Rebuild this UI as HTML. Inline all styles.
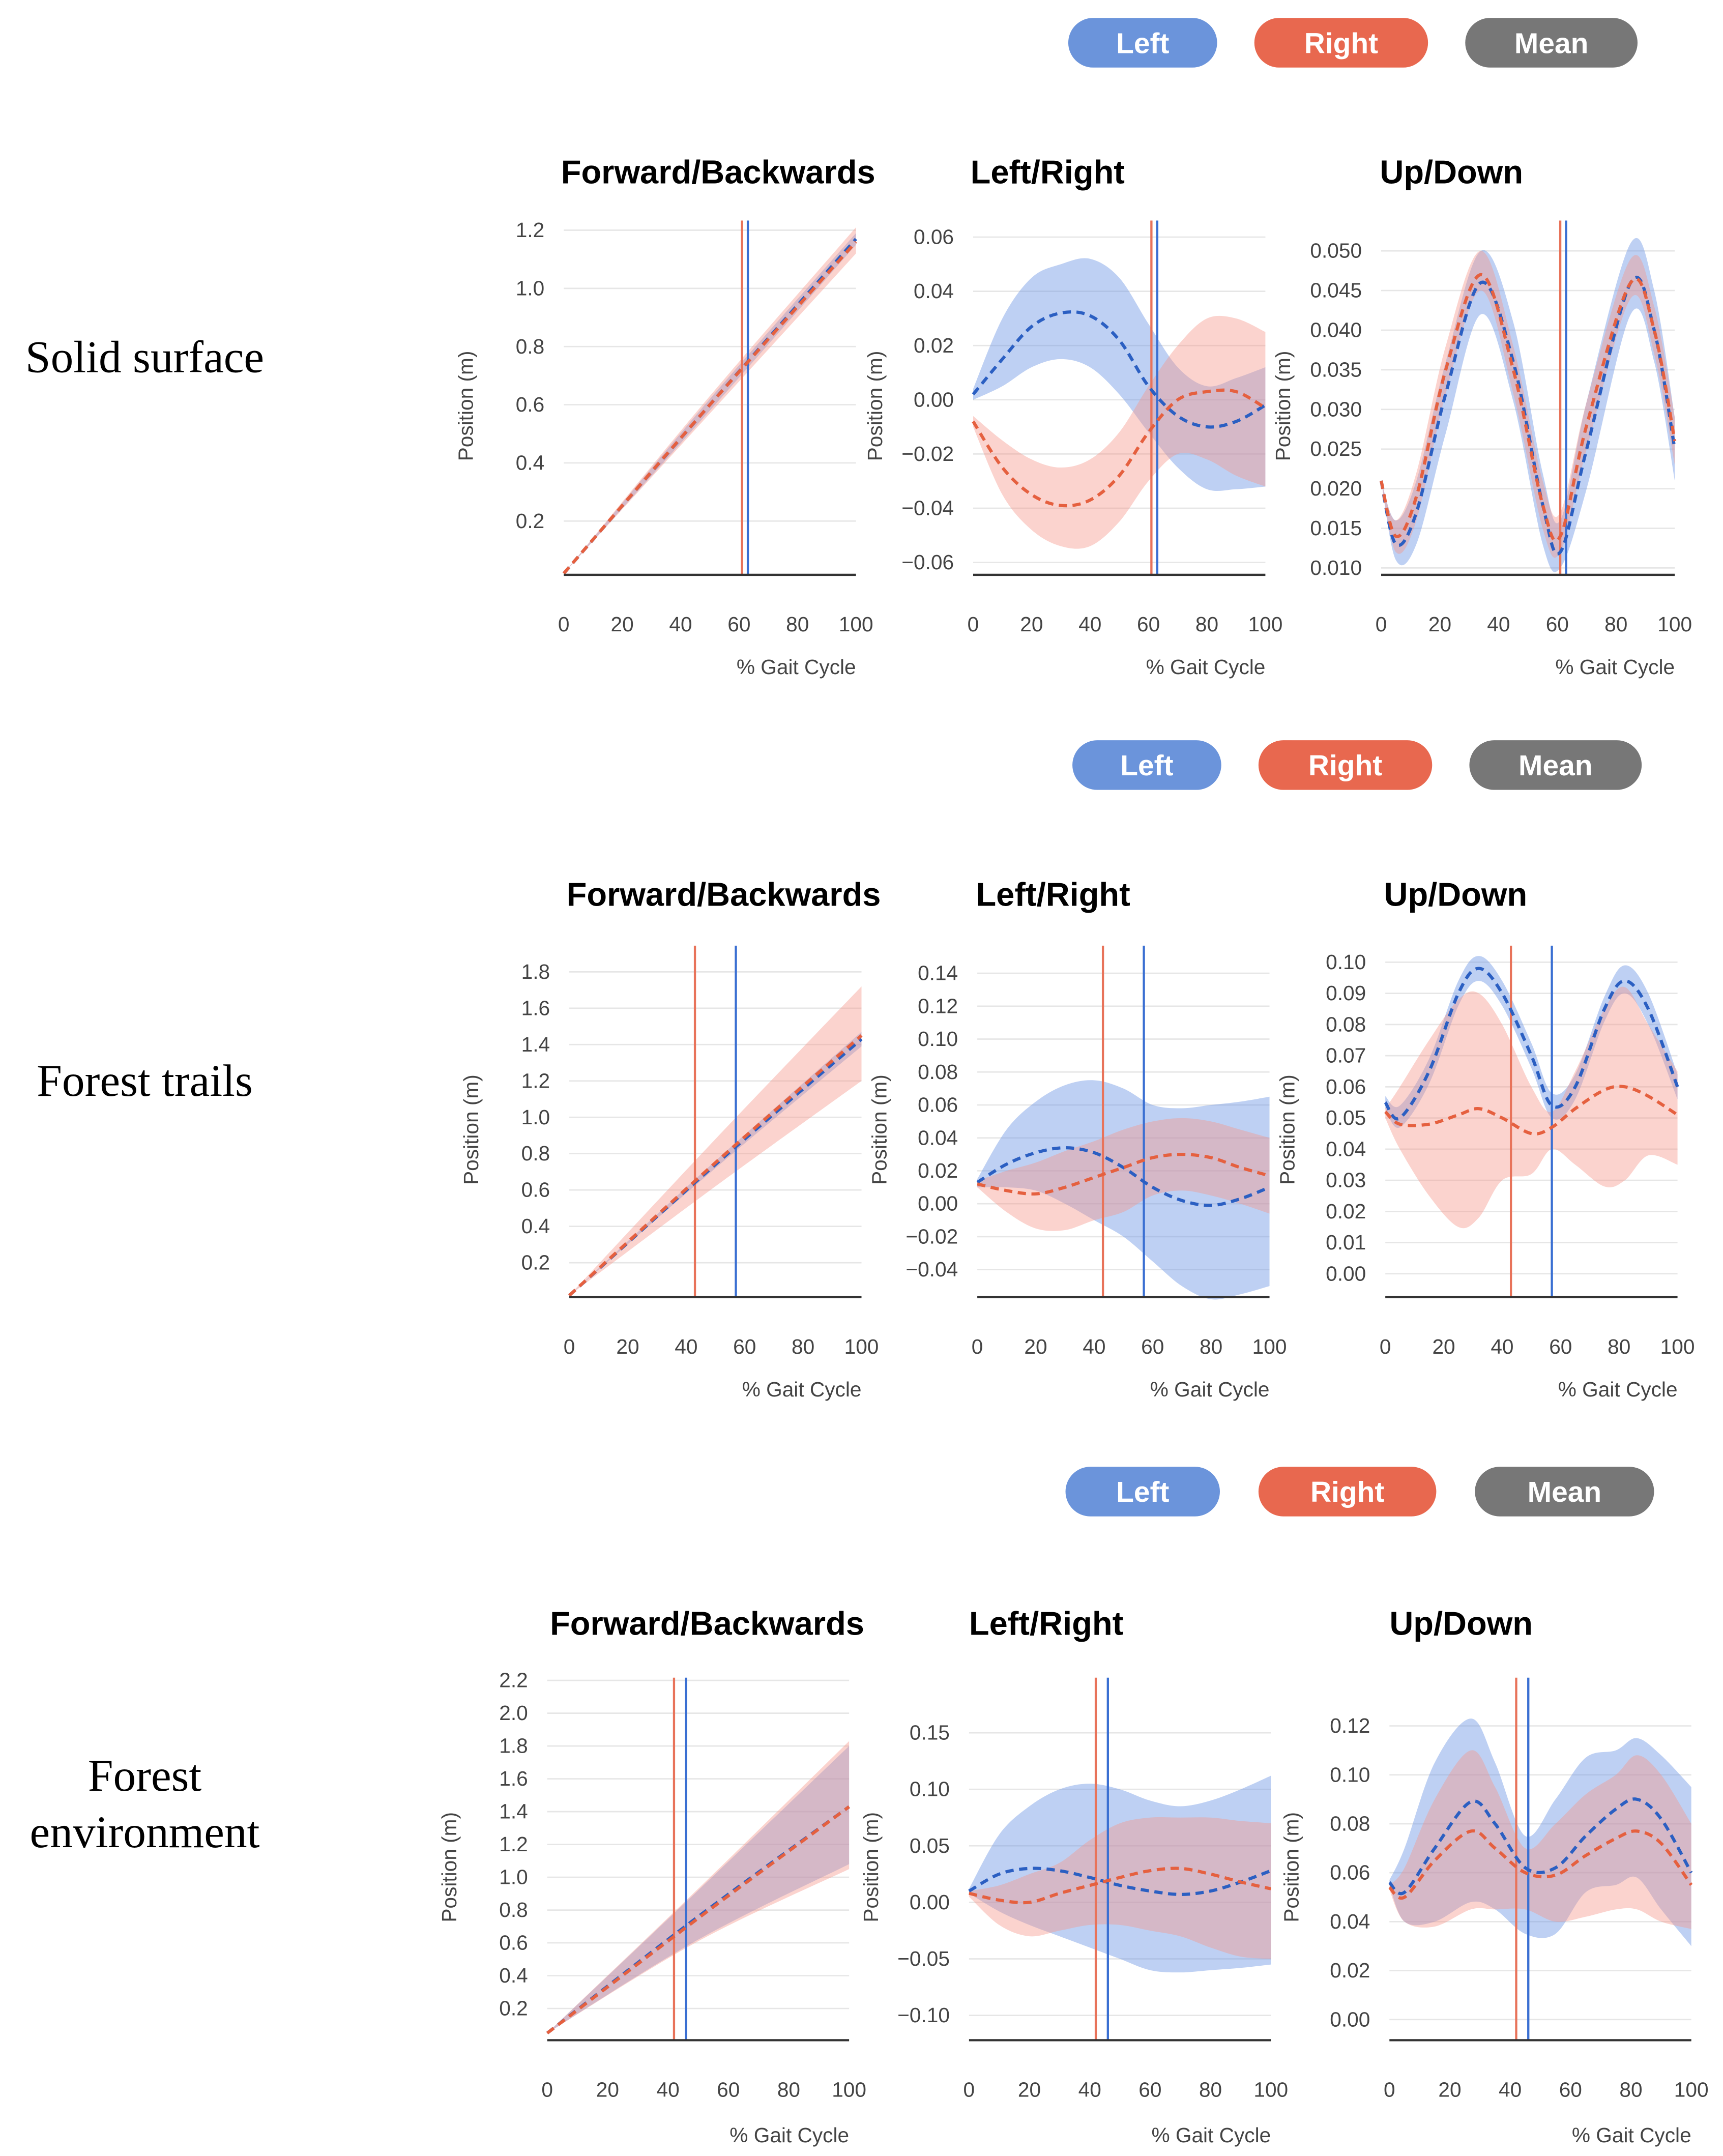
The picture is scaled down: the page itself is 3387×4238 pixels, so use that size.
<!DOCTYPE html>
<html><head><meta charset="utf-8">
<style>
html,body{margin:0;padding:0;background:#fff;}
svg{display:block;}
</style></head>
<body>
<svg id="fig" width="3387" height="4238" viewBox="0 0 1250 1564" preserveAspectRatio="none" xmlns="http://www.w3.org/2000/svg" font-family="Liberation Sans, Arial, sans-serif">
<g><text x="105" y="270" text-anchor="middle" font-family="Liberation Serif, serif" font-size="33">Solid surface</text></g>
<g><text x="105" y="795" text-anchor="middle" font-family="Liberation Serif, serif" font-size="33">Forest trails</text></g>
<g><text x="105" y="1299" text-anchor="middle" font-family="Liberation Serif, serif" font-size="33">Forest</text><text x="105" y="1340" text-anchor="middle" font-family="Liberation Serif, serif" font-size="33">environment</text></g>
</svg>
<script>
// ---- data (row 1: solid surface) ----
const r1p1Pct=[0,50,100];
const r1p1LeftMean=[0.02,0.60,1.17];const r1p1LeftHi=[0.02,0.62,1.19];const r1p1LeftLo=[0.02,0.58,1.15];
const r1p1RightMean=[0.02,0.60,1.16];const r1p1RightHi=[0.02,0.63,1.21];const r1p1RightLo=[0.02,0.57,1.12];
const r1p1Ticks=[0.2,0.4,0.6,0.8,1.0,1.2];const r1p1Stance=[61,63];

const r1p2Pct=[0,10,20,30,40,50,60,70,80,90,100];
const r1p2LeftMean=[0.002,0.015,0.027,0.032,0.031,0.022,0.005,-0.006,-0.010,-0.008,-0.002];
const r1p2LeftHi=[0.004,0.030,0.045,0.050,0.052,0.045,0.028,0.012,0.005,0.008,0.012];
const r1p2LeftLo=[0.000,0.005,0.012,0.015,0.012,0.002,-0.012,-0.025,-0.033,-0.033,-0.032];
const r1p2RightMean=[-0.008,-0.025,-0.035,-0.039,-0.037,-0.028,-0.012,0.000,0.003,0.003,-0.003];
const r1p2RightHi=[-0.006,-0.015,-0.022,-0.025,-0.022,-0.012,0.005,0.020,0.030,0.030,0.025];
const r1p2RightLo=[-0.010,-0.035,-0.048,-0.054,-0.054,-0.045,-0.030,-0.020,-0.022,-0.028,-0.032];
const r1p2Ticks=[-0.06,-0.04,-0.02,0,0.02,0.04,0.06];const r1p2Stance=[61,63];

const r1p3Pct=[0,5,12,22,34,45,55,61,70,85,93,100];
const r1p3LeftMean=[0.021,0.013,0.017,0.032,0.046,0.036,0.018,0.012,0.025,0.046,0.040,0.025];
const r1p3LeftHi=[0.021,0.016,0.021,0.036,0.050,0.041,0.022,0.016,0.031,0.051,0.045,0.029];
const r1p3LeftLo=[0.021,0.011,0.013,0.027,0.042,0.031,0.013,0.010,0.020,0.042,0.036,0.021];
const r1p3RightMean=[0.021,0.014,0.019,0.035,0.047,0.035,0.018,0.014,0.028,0.046,0.040,0.026];
const r1p3RightHi=[0.021,0.016,0.022,0.038,0.050,0.038,0.021,0.017,0.031,0.049,0.043,0.029];
const r1p3RightLo=[0.021,0.012,0.016,0.032,0.045,0.032,0.015,0.012,0.025,0.044,0.037,0.023];
const r1p3Ticks=[0.010,0.015,0.020,0.025,0.030,0.035,0.040,0.045,0.050];const r1p3Stance=[61,63];

// ---- data (row 2: forest trails) ----
const r2p1Pct=[0,50,100];
const r2p1LeftMean=[0.02,0.74,1.43];const r2p1LeftHi=[0.02,0.76,1.47];const r2p1LeftLo=[0.02,0.72,1.39];
const r2p1RightMean=[0.02,0.75,1.45];const r2p1RightHi=[0.02,0.88,1.72];const r2p1RightLo=[0.02,0.62,1.20];
const r2p1Ticks=[0.2,0.4,0.6,0.8,1.0,1.2,1.4,1.6,1.8];const r2p1Stance=[43,57];

const r2p2Pct=[0,10,20,30,40,50,60,70,80,90,100];
const r2p2LeftMean=[0.013,0.024,0.031,0.034,0.031,0.022,0.010,0.002,-0.001,0.003,0.010];
const r2p2LeftHi=[0.015,0.045,0.062,0.072,0.075,0.070,0.060,0.058,0.060,0.062,0.065];
const r2p2LeftLo=[0.010,0.010,0.008,0.000,-0.010,-0.020,-0.035,-0.050,-0.058,-0.055,-0.050];
const r2p2RightMean=[0.012,0.008,0.006,0.010,0.016,0.022,0.028,0.030,0.028,0.022,0.017];
const r2p2RightHi=[0.014,0.020,0.025,0.032,0.038,0.045,0.050,0.052,0.050,0.045,0.040];
const r2p2RightLo=[0.010,-0.005,-0.015,-0.016,-0.010,-0.005,0.005,0.008,0.005,0.000,-0.006];
const r2p2Ticks=[-0.04,-0.02,0,0.02,0.04,0.06,0.08,0.10,0.12,0.14];const r2p2Stance=[43,57];

const r2p3Pct=[0,5,15,25,32,40,50,57,65,75,82,90,100];
const r2p3LeftMean=[0.055,0.050,0.065,0.090,0.098,0.090,0.070,0.054,0.060,0.085,0.094,0.085,0.060];
const r2p3LeftHi=[0.057,0.054,0.069,0.094,0.102,0.094,0.074,0.058,0.064,0.089,0.099,0.090,0.064];
const r2p3LeftLo=[0.053,0.047,0.061,0.086,0.094,0.086,0.066,0.050,0.056,0.081,0.090,0.080,0.056];
const r2p3RightMean=[0.052,0.048,0.048,0.051,0.053,0.050,0.045,0.047,0.053,0.059,0.060,0.057,0.051];
const r2p3RightHi=[0.053,0.060,0.075,0.088,0.090,0.080,0.060,0.052,0.065,0.085,0.092,0.080,0.065];
const r2p3RightLo=[0.050,0.040,0.025,0.015,0.018,0.030,0.032,0.040,0.035,0.028,0.030,0.038,0.035];
const r2p3Ticks=[0,0.01,0.02,0.03,0.04,0.05,0.06,0.07,0.08,0.09,0.10];const r2p3Stance=[43,57];

// ---- data (row 3: forest environment) ----
const r3p1Pct=[0,50,100];
const r3p1LeftMean=[0.05,0.76,1.43];const r3p1LeftHi=[0.05,0.92,1.80];const r3p1LeftLo=[0.05,0.62,1.08];
const r3p1RightMean=[0.05,0.75,1.43];const r3p1RightHi=[0.05,0.93,1.83];const r3p1RightLo=[0.05,0.61,1.05];
const r3p1Ticks=[0.2,0.4,0.6,0.8,1.0,1.2,1.4,1.6,1.8,2.0,2.2];const r3p1Stance=[42,46];

const r3p2Pct=[0,10,20,30,40,50,60,70,80,90,100];
const r3p2LeftMean=[0.010,0.025,0.030,0.028,0.022,0.015,0.010,0.007,0.010,0.018,0.028];
const r3p2LeftHi=[0.012,0.060,0.085,0.100,0.105,0.100,0.090,0.085,0.090,0.100,0.112];
const r3p2LeftLo=[0.008,-0.008,-0.020,-0.030,-0.040,-0.050,-0.060,-0.062,-0.060,-0.058,-0.055];
const r3p2RightMean=[0.008,0.002,0.000,0.008,0.015,0.022,0.028,0.030,0.025,0.018,0.012];
const r3p2RightHi=[0.010,0.015,0.025,0.035,0.055,0.070,0.075,0.075,0.075,0.072,0.070];
const r3p2RightLo=[0.005,-0.020,-0.030,-0.025,-0.020,-0.020,-0.025,-0.030,-0.040,-0.048,-0.050];
const r3p2Ticks=[-0.10,-0.05,0,0.05,0.10,0.15];const r3p2Stance=[42,46];

const r3p3Pct=[0,5,15,27,35,45,55,65,75,82,90,100];
const r3p3LeftMean=[0.056,0.052,0.070,0.089,0.080,0.062,0.062,0.075,0.086,0.090,0.082,0.060];
const r3p3LeftHi=[0.057,0.070,0.105,0.123,0.105,0.075,0.090,0.107,0.110,0.115,0.108,0.095];
const r3p3LeftLo=[0.055,0.040,0.040,0.048,0.045,0.035,0.035,0.052,0.055,0.058,0.045,0.030];
const r3p3RightMean=[0.054,0.050,0.065,0.077,0.070,0.060,0.059,0.067,0.074,0.077,0.072,0.055];
const r3p3RightHi=[0.055,0.062,0.090,0.110,0.095,0.070,0.080,0.092,0.100,0.108,0.100,0.080];
const r3p3RightLo=[0.053,0.040,0.038,0.045,0.045,0.045,0.040,0.042,0.045,0.045,0.040,0.037];
const r3p3Ticks=[0,0.02,0.04,0.06,0.08,0.10,0.12];const r3p3Stance=[42,46];

const xTicks=[0,20,40,60,80,100];

const NS='http://www.w3.org/2000/svg';
const svg=document.getElementById('fig');
function mk(tag,attrs,parent){const e=document.createElementNS(NS,tag);for(const k in attrs)e.setAttribute(k,attrs[k]);(parent||svg).appendChild(e);return e;}
function smooth(pts){
  let d='M'+pts[0][0]+','+pts[0][1];
  for(let i=0;i<pts.length-1;i++){
    const p0=pts[Math.max(0,i-1)],p1=pts[i],p2=pts[i+1],p3=pts[Math.min(pts.length-1,i+2)];
    const c1=[p1[0]+(p2[0]-p0[0])/6,p1[1]+(p2[1]-p0[1])/6];
    const c2=[p2[0]-(p3[0]-p1[0])/6,p2[1]-(p3[1]-p1[1])/6];
    d+=' C'+c1[0]+','+c1[1]+' '+c2[0]+','+c2[1]+' '+p2[0]+','+p2[1];
  }
  return d;
}
function fmt(v,dec){return (v<0?'\u2212':'')+Math.abs(v).toFixed(dec);}

const panels=[
 {id:'r1p1',title:'Forward/Backwards',x0:409,x1:621,tA:1.2,yA:167,tB:0.2,yB:378,base:417,top:160,dec:1,pct:r1p1Pct,lm:r1p1LeftMean,lh:r1p1LeftHi,ll:r1p1LeftLo,rm:r1p1RightMean,rh:r1p1RightHi,rl:r1p1RightLo,ticks:r1p1Ticks,st:r1p1Stance,titleY:125,xtY:458,xlY:489,tx:521},
 {id:'r1p2',title:'Left/Right',x0:706,x1:918,tA:0.06,yA:172,tB:-0.06,yB:408,base:417,top:160,dec:2,pct:r1p2Pct,lm:r1p2LeftMean,lh:r1p2LeftHi,ll:r1p2LeftLo,rm:r1p2RightMean,rh:r1p2RightHi,rl:r1p2RightLo,ticks:r1p2Ticks,st:r1p2Stance,titleY:125,xtY:458,xlY:489,tx:760},
 {id:'r1p3',title:'Up/Down',x0:1002,x1:1215,tA:0.050,yA:182,tB:0.010,yB:412,base:417,top:160,dec:3,pct:r1p3Pct,lm:r1p3LeftMean,lh:r1p3LeftHi,ll:r1p3LeftLo,rm:r1p3RightMean,rh:r1p3RightHi,rl:r1p3RightLo,ticks:r1p3Ticks,st:r1p3Stance,titleY:125,xtY:458,xlY:489,tx:1053},
 {id:'r2p1',title:'Forward/Backwards',x0:413,x1:625,tA:1.8,yA:705,tB:0.2,yB:916,base:941,top:686,dec:1,pct:r2p1Pct,lm:r2p1LeftMean,lh:r2p1LeftHi,ll:r2p1LeftLo,rm:r2p1RightMean,rh:r2p1RightHi,rl:r2p1RightLo,ticks:r2p1Ticks,st:r2p1Stance,titleY:649,xtY:982,xlY:1013,tx:525},
 {id:'r2p2',title:'Left/Right',x0:709,x1:921,tA:0.14,yA:706,tB:-0.04,yB:921,base:941,top:686,dec:2,pct:r2p2Pct,lm:r2p2LeftMean,lh:r2p2LeftHi,ll:r2p2LeftLo,rm:r2p2RightMean,rh:r2p2RightHi,rl:r2p2RightLo,ticks:r2p2Ticks,st:r2p2Stance,titleY:649,xtY:982,xlY:1013,tx:764},
 {id:'r2p3',title:'Up/Down',x0:1005,x1:1217,tA:0.10,yA:698,tB:0.00,yB:924,base:941,top:686,dec:2,pct:r2p3Pct,lm:r2p3LeftMean,lh:r2p3LeftHi,ll:r2p3LeftLo,rm:r2p3RightMean,rh:r2p3RightHi,rl:r2p3RightLo,ticks:r2p3Ticks,st:r2p3Stance,titleY:649,xtY:982,xlY:1013,tx:1056},
 {id:'r3p1',title:'Forward/Backwards',x0:397,x1:616,tA:2.2,yA:1219,tB:0.2,yB:1457,base:1480,top:1217,dec:1,pct:r3p1Pct,lm:r3p1LeftMean,lh:r3p1LeftHi,ll:r3p1LeftLo,rm:r3p1RightMean,rh:r3p1RightHi,rl:r3p1RightLo,ticks:r3p1Ticks,st:r3p1Stance,titleY:1178,xtY:1521,xlY:1554,tx:513},
 {id:'r3p2',title:'Left/Right',x0:703,x1:922,tA:0.15,yA:1257,tB:-0.10,yB:1462,base:1480,top:1217,dec:2,pct:r3p2Pct,lm:r3p2LeftMean,lh:r3p2LeftHi,ll:r3p2LeftLo,rm:r3p2RightMean,rh:r3p2RightHi,rl:r3p2RightLo,ticks:r3p2Ticks,st:r3p2Stance,titleY:1178,xtY:1521,xlY:1554,tx:759},
 {id:'r3p3',title:'Up/Down',x0:1008,x1:1227,tA:0.12,yA:1252,tB:0.00,yB:1465,base:1480,top:1217,dec:2,pct:r3p3Pct,lm:r3p3LeftMean,lh:r3p3LeftHi,ll:r3p3LeftLo,rm:r3p3RightMean,rh:r3p3RightHi,rl:r3p3RightLo,ticks:r3p3Ticks,st:r3p3Stance,titleY:1178,xtY:1521,xlY:1554,tx:1060}
];

const legendRows=[31,555,1082];
const legendPills=[
 [[775,883],[910,1036],[1063,1188]],
 [[778,886],[913,1039],[1066,1191]],
 [[773,885],[913,1042],[1070,1200]]
];
const legendLabels=['Left','Right','Mean'];
const legendColors=['#6b94db','#e8684f','#777777'];
legendRows.forEach((cy,ri)=>{
  legendPills[ri].forEach((p,i)=>{
    const g=mk('g',{});
    
    
    mk('rect',{x:p[0],y:cy-18,width:p[1]-p[0],height:36,rx:18,fill:legendColors[i]},g);
    const t=mk('text',{x:(p[0]+p[1])/2,y:cy+7.5,'text-anchor':'middle','font-size':21,'font-weight':'bold',fill:'#fff'},g);
    t.textContent=legendLabels[i];
  });
});

panels.forEach(P=>{
  const g=mk('g',{});
  
  
  const sy=v=>P.yA+(v-P.tA)*(P.yB-P.yA)/(P.tB-P.tA);
  const sx=v=>P.x0+v*(P.x1-P.x0)/100;
  const tt=mk('text',{x:P.tx,y:P.titleY+8,'text-anchor':'middle','font-size':24,'font-weight':'bold',fill:'#000'},g);
  
  
  tt.textContent=P.title;
  P.ticks.forEach(v=>{
    const y=sy(v);
    mk('line',{x1:P.x0,x2:P.x1,y1:y,y2:y,stroke:'#e6e6e6','stroke-width':1},g);
    const t=mk('text',{x:P.x0-14,y:y+5,'text-anchor':'end','font-size':15,fill:'#444'},g);
    
    
    t.textContent=fmt(v,P.dec);
  });
  xTicks.forEach(v=>{
    const t=mk('text',{x:sx(v),y:P.xtY,'text-anchor':'middle','font-size':15,fill:'#444'},g);
    
    
    t.textContent=v;
  });
  const xl=mk('text',{x:P.x1,y:P.xlY,'text-anchor':'end','font-size':15,fill:'#444'},g);
  
  
  xl.textContent='% Gait Cycle';
  const ymid=(P.top+P.base)/2+6;
  const yl=mk('text',{x:0,y:0,transform:'translate('+(P.x0-66)+','+ymid+') rotate(-90)','text-anchor':'middle','font-size':15,fill:'#444'},g);
  
  
  yl.textContent='Position (m)';
  function band(hi,lo,fill,name){
    const up=P.pct.map((p,i)=>[sx(p),sy(hi[i])]);
    const dn=P.pct.map((p,i)=>[sx(p),sy(lo[i])]).reverse();
    const d=smooth(up)+' L'+smooth(dn).slice(1)+' Z';
    const e=mk('path',{d:d,fill:fill,stroke:'none'},g);
    
    
  }
  band(P.lh,P.ll,'rgba(110,150,228,0.45)','left-band');
  band(P.rh,P.rl,'rgba(246,150,138,0.42)','right-band');
  const vr=mk('line',{x1:sx(P.st[0]),x2:sx(P.st[0]),y1:P.top,y2:P.base,stroke:'#e8735a','stroke-width':1.6},g);
  
  
  const vb=mk('line',{x1:sx(P.st[1]),x2:sx(P.st[1]),y1:P.top,y2:P.base,stroke:'#3a6fd2','stroke-width':1.6},g);
  
  
  function line(m,col,name){
    const e=mk('path',{d:smooth(P.pct.map((p,i)=>[sx(p),sy(m[i])])),fill:'none',stroke:col,'stroke-width':2.3,'stroke-dasharray':'6,4'},g);
    
    
  }
  line(P.lm,'#2b5fc2','left-mean-line');
  line(P.rm,'#e5603f','right-mean-line');
  const b=mk('line',{x1:P.x0,x2:P.x1,y1:P.base,y2:P.base,stroke:'#333','stroke-width':1.6},g);
  
  
});
</script>
</body></html>
